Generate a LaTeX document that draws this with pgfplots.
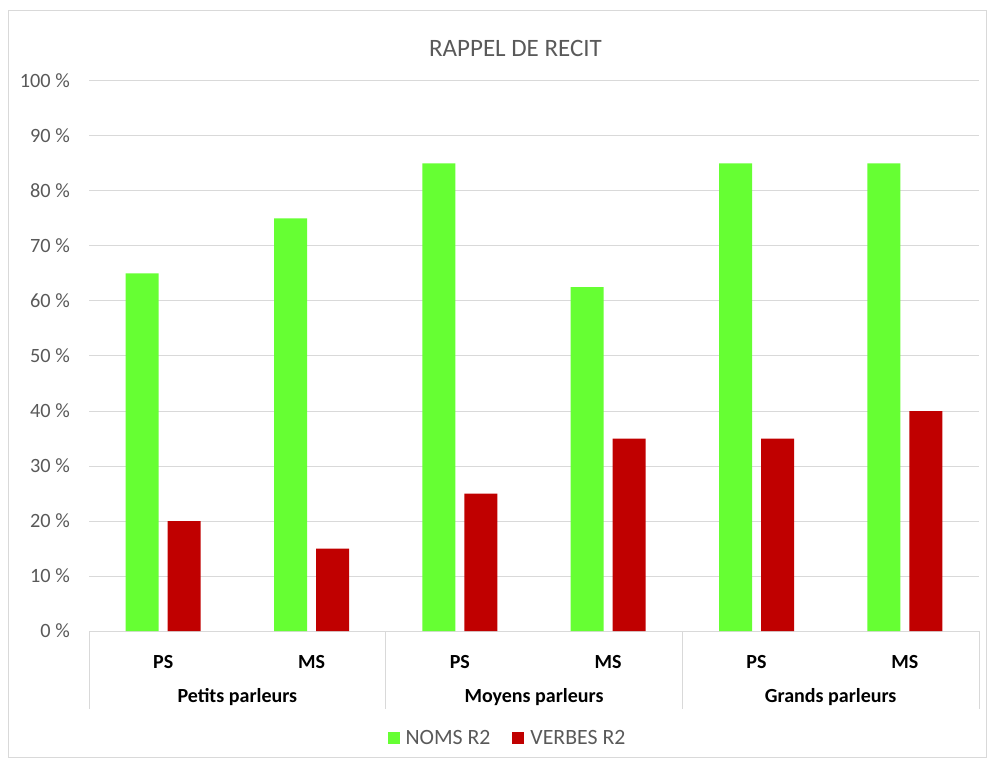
\documentclass[border=0pt]{standalone}
\usepackage{pgfplots}
\pgfplotsset{compat=1.18}
\usepackage{fontspec}
\setmainfont{Carlito}
\definecolor{gridgray}{HTML}{D9D9D9}
\definecolor{txtgray}{HTML}{595959}
\definecolor{nomsgreen}{HTML}{66FF33}
\definecolor{verbesred}{HTML}{C00000}
\begin{document}
\begin{tikzpicture}[x=1pt,y=1pt]
\path[use as bounding box] (0,0) rectangle (987,758);
\draw[gridgray, line width=1pt] (8,1) rectangle (986,747);
\node[text=txtgray, font=\fontsize{25}{30}\selectfont] at (515.5,710) {RAPPEL DE RECIT};
\begin{axis}[
  at={(89pt,127pt)}, anchor=south west,
  scale only axis, width=890pt, height=550pt,
  xmin=-0.5, xmax=5.5, ymin=0, ymax=100,
  enlargelimits=false, clip=false,
  axis line style={draw=none},
  tick style={draw=none},
  ymajorgrids, grid style={gridgray, line width=1pt},
  ybar, bar width=33pt,
  xtick={0,1,2,3,4,5},
  xticklabels={PS,MS,PS,MS,PS,MS},
  xticklabel style={anchor=center, yshift=-27pt, font=\bfseries\fontsize{20}{24}\selectfont, text=black},
  ytick={0,10,...,100},
  yticklabels={0 \%,10 \%,20 \%,30 \%,40 \%,50 \%,60 \%,70 \%,80 \%,90 \%,100 \%},
  yticklabel style={anchor=east, inner sep=0pt, xshift=-19pt, font=\fontsize{20.3}{24}\selectfont, text=txtgray},
  legend columns=2,
  legend style={at={(0.4702,-0.1945)}, anchor=center, draw=none, fill=none,
    font=\fontsize{21.8}{26}\selectfont, text=txtgray,
    /tikz/every odd column/.append style={column sep=4pt},
    /tikz/every even column/.append style={column sep=20pt}},
  legend image code/.code={\fill[#1] (0pt,-6pt) rectangle (12pt,6pt);},
]
\addplot[fill=nomsgreen, draw=none, bar shift=-21pt] coordinates {(0,65) (1,75) (2,85) (3,62.5) (4,85) (5,85)};
\addplot[fill=verbesred, draw=none, bar shift=21pt] coordinates {(0,20) (1,15) (2,25) (3,35) (4,35) (5,40)};
\legend{NOMS R2, VERBES R2}
\draw[gridgray, line width=1pt] (axis cs:-0.5,0) -- ([yshift=-78pt]axis cs:-0.5,0);
\draw[gridgray, line width=1pt] (axis cs:1.5,0) -- ([yshift=-78pt]axis cs:1.5,0);
\draw[gridgray, line width=1pt] (axis cs:3.5,0) -- ([yshift=-78pt]axis cs:3.5,0);
\draw[gridgray, line width=1pt] (axis cs:5.5,0) -- ([yshift=-78pt]axis cs:5.5,0);
\node[font=\bfseries\fontsize{20}{24}\selectfont, yshift=-66pt] at (axis cs:0.5,0) {Petits parleurs};
\node[font=\bfseries\fontsize{20}{24}\selectfont, yshift=-66pt] at (axis cs:2.5,0) {Moyens parleurs};
\node[font=\bfseries\fontsize{20}{24}\selectfont, yshift=-66pt] at (axis cs:4.5,0) {Grands parleurs};
\end{axis}
\end{tikzpicture}
\end{document}
